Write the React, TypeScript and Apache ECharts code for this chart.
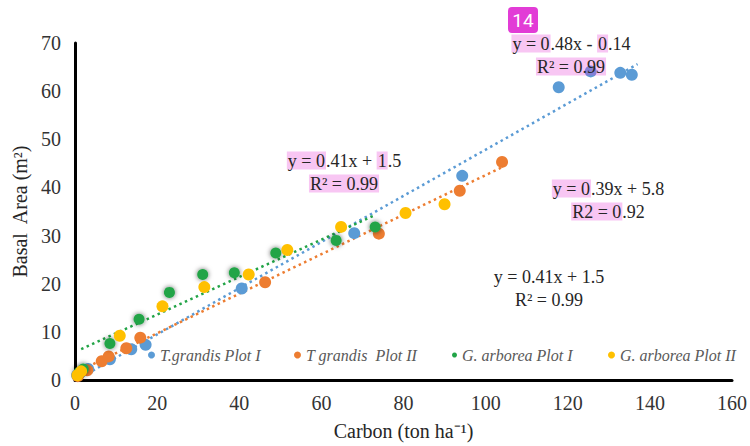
import React, { useEffect, useRef } from "react";
import * as echarts from "echarts";

const xTicks = [0, 20, 40, 60, 80, 100, 120, 140, 160];
const yTicks = [0, 10, 20, 30, 40, 50, 60, 70];

const tgPlot1: [number, number][] = [
  [0.5, 1.0], [3.2, 2.3], [8.5, 4.3], [13.7, 6.4], [17.2, 7.3], [40.6, 19.0],
  [68.0, 30.5], [94.3, 42.4], [117.8, 60.8], [125.6, 64.1], [132.8, 63.8], [135.6, 63.4],
];
const tgPlot2: [number, number][] = [
  [0.7, 0.8], [3.0, 2.0], [6.5, 3.9], [8.2, 4.9], [12.5, 6.6], [15.9, 8.8],
  [46.3, 20.3], [74.0, 30.4], [93.7, 39.3], [104.0, 45.3],
];
const gaPlot1: [number, number][] = [
  [1.0, 1.6], [2.0, 2.3], [8.5, 7.6], [15.6, 12.6], [23.0, 18.2], [31.1, 21.9],
  [38.8, 22.3], [48.9, 26.4], [63.6, 29.0], [73.1, 31.8],
];
const gaPlot2: [number, number][] = [
  [0.6, 1.0], [1.5, 1.8], [10.9, 9.2], [21.3, 15.3], [31.5, 19.3], [42.3, 21.9],
  [51.7, 27.0], [64.8, 31.8], [80.5, 34.7], [90.0, 36.5],
];

// trend line end points
const trendTg1: [number, number][] = [[0.5, 0.1], [137, 65.6]];
const trendTg2: [number, number][] = [[0.5, 1.7], [104, 44.2]];
const trendGa1: [number, number][] = [[1.5, 6.4], [73.2, 34.3]];

const seriesNames = ["T.grandis Plot I", "T grandis  Plot II", "G. arborea Plot I", "G. arborea Plot II"];
const colors = ["#5B9BD5", "#ED7D31", "#22A447", "#FFC000"];

const SERIF = "'Liberation Serif', 'Times New Roman', serif";

export default function App() {
  const ref = useRef<HTMLDivElement>(null);
  useEffect(() => {
    if (!ref.current) return;
    const chart = echarts.init(ref.current, undefined, { renderer: "svg" });
    const eqRich = (bg: boolean) => ({
      fontFamily: SERIF,
      fontSize: 18,
      lineHeight: 23,
      fill: "#262626",
      backgroundColor: bg ? "rgba(230,60,215,0.29)" : "transparent",
      padding: bg ? [0, 1] : 0,
    });
    const rich = { h: eqRich(true), n: eqRich(false) };
    const legendCommon = {
      orient: "horizontal",
      padding: 0,
      itemWidth: 7,
      itemHeight: 7,
      icon: "circle",
      textStyle: { fontFamily: SERIF, fontStyle: "italic", fontSize: 16, color: "#595959" },
    };
    const legendLefts = [148, 294, 452, 608];
    chart.setOption({
      animation: false,
      grid: { left: 75, right: 15, top: 43, bottom: 65, containLabel: false },
      xAxis: {
        type: "value",
        min: xTicks[0],
        max: xTicks[xTicks.length - 1],
        interval: 20,
        name: "Carbon (ton ha⁻¹)",
        nameLocation: "middle",
        nameGap: 41,
        nameTextStyle: { fontFamily: SERIF, fontSize: 20, color: "#262626" },
        axisLine: { show: true, lineStyle: { color: "#000", width: 3 } },
        axisTick: { show: false },
        splitLine: { show: false },
        axisLabel: { fontFamily: SERIF, fontSize: 20, color: "#333", margin: 13 },
      },
      yAxis: {
        type: "value",
        min: yTicks[0],
        max: yTicks[yTicks.length - 1],
        interval: 10,
        name: "Basal  Area (m²)",
        nameLocation: "middle",
        nameGap: 44,
        nameTextStyle: { fontFamily: SERIF, fontSize: 20, color: "#262626" },
        axisLine: { show: true, lineStyle: { color: "#000", width: 3 } },
        axisTick: { show: false },
        splitLine: { show: false },
        axisLabel: { fontFamily: SERIF, fontSize: 20, color: "#333", margin: 14 },
      },
      legend: seriesNames.map((n, i) => ({
        ...legendCommon,
        left: legendLefts[i],
        top: 347,
        itemWidth: i === 2 ? 5 : 7,
        itemHeight: i === 2 ? 5 : 7,
        data: [{ name: n, icon: "circle", itemStyle: { color: colors[i], shadowBlur: 0 } }],
      })),
      series: [
        {
          type: "line", data: trendTg1, symbol: "none", silent: true, z: 1,
          lineStyle: { color: colors[0], width: 2.5, type: [2.5, 3.5] },
        },
        {
          type: "line", data: trendTg2, symbol: "none", silent: true, z: 1,
          lineStyle: { color: colors[1], width: 2.5, type: [2.5, 3.5] },
        },
        {
          type: "line", data: trendGa1, symbol: "none", silent: true, z: 1,
          lineStyle: { color: colors[2], width: 2.5, type: [2.5, 3.5] },
        },
        {
          name: seriesNames[0], type: "scatter", data: tgPlot1, symbolSize: 12, z: 2,
          itemStyle: { color: colors[0], opacity: 1 },
        },
        {
          name: seriesNames[1], type: "scatter", data: tgPlot2, symbolSize: 12, z: 2,
          itemStyle: { color: colors[1], opacity: 1 },
        },
        {
          name: seriesNames[2], type: "scatter", data: gaPlot1, symbolSize: 11, z: 2,
          itemStyle: { color: colors[2], opacity: 1, shadowBlur: 5, shadowColor: "rgba(0,0,0,0.6)" },
        },
        {
          name: seriesNames[3], type: "scatter", data: gaPlot2, symbolSize: 12, z: 2,
          itemStyle: { color: colors[3], opacity: 1 },
        },
      ],
      graphic: [
        {
          type: "rect", left: 508, top: 7, z: 10,
          shape: { width: 30, height: 26, r: 4 },
          style: { fill: "#E23CD6" },
        },
        {
          type: "text", x: 523, y: 20, z: 11,
          style: {
            text: "14", fill: "#fff", fontFamily: "Roboto, 'Noto Sans', sans-serif", fontSize: 19,
            align: "center", verticalAlign: "middle",
          },
        },
        {
          type: "text", x: 571, y: 32, z: 9,
          style: {
            text: "{h|y = 0}{n|.48x - }{h|0}{n|.14}\n{h|R² = 0.99}",
            align: "center", verticalAlign: "top", rich, fontFamily: SERIF, fontSize: 18,
          },
        },
        {
          type: "text", x: 344, y: 149, z: 9,
          style: {
            text: "{h|y = 0}{n|.41x + }{h|1}{n|.5}\n{h|R² = 0.99}",
            align: "center", verticalAlign: "top", rich, fontFamily: SERIF, fontSize: 18,
          },
        },
        {
          type: "text", x: 608, y: 177, z: 9,
          style: {
            text: "{h|y = 0}{n|.39x + 5.8}\n{h|R2 = 0}{n|.92}",
            align: "center", verticalAlign: "top", rich, fontFamily: SERIF, fontSize: 18,
          },
        },
        {
          type: "text", x: 549, y: 265, z: 9,
          style: {
            text: "{n|y = 0.41x + 1.5}\n{n|R² = 0.99}",
            align: "center", verticalAlign: "top", rich, fontFamily: SERIF, fontSize: 18,
          },
        },
      ],
    });
    return () => chart.dispose();
  }, []);
  return <div ref={ref} style={{ width: 750, height: 446, position: "absolute", left: 0, top: 0 }} />;
}
